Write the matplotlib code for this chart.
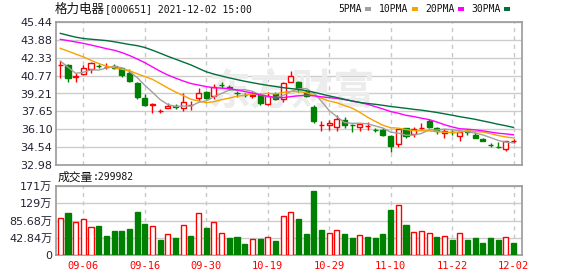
import numpy as np
import matplotlib.pyplot as plt
from matplotlib.patches import Rectangle

plt.rcParams['font.family'] = ['DejaVu Sans', 'Noto Sans CJK SC']

# trading days shown (2021-09-01 .. 2021-12-02)
dates = ['09-01', '09-02', '09-03', '09-06', '09-07', '09-08', '09-09', '09-10', '09-13', '09-14',
         '09-15', '09-16', '09-17', '09-22', '09-23', '09-24', '09-27', '09-28', '09-29', '09-30',
         '10-08', '10-11', '10-12', '10-13', '10-14', '10-15', '10-18', '10-19', '10-20', '10-21',
         '10-22', '10-25', '10-26', '10-27', '10-28', '10-29', '11-01', '11-02', '11-03', '11-04',
         '11-05', '11-08', '11-09', '11-10', '11-11', '11-12', '11-15', '11-16', '11-17', '11-18',
         '11-19', '11-22', '11-23', '11-24', '11-25', '11-26', '11-29', '11-30', '12-01', '12-02']

opens = [41.66, 41.69, 40.66, 40.91, 41.35, 41.63, 41.53, 41.63, 41.41, 40.97,
         40.10, 38.84, 38.24, 37.67, 37.97, 38.08, 37.97, 38.19, 38.84, 39.31,
         39.02, 39.97, 39.74, 39.25, 39.10, 39.01, 39.08, 38.27, 39.14, 38.73,
         40.19, 40.19, 39.37, 38.06, 36.45, 36.47, 36.32, 36.90, 36.48, 36.32,
         36.39, 36.05, 36.03, 35.51, 34.78, 36.18, 35.66, 36.21, 36.84, 36.18,
         35.74, 35.85, 35.53, 35.90, 35.59, 35.25, 34.74, 34.59, 34.37, 35.05]
closes = [41.72, 40.59, 40.70, 41.46, 41.90, 41.58, 41.56, 41.41, 40.82, 40.30,
          38.93, 38.21, 38.27, 37.70, 38.15, 38.05, 38.44, 38.22, 39.28, 38.84,
          39.80, 39.94, 39.71, 39.22, 39.07, 39.04, 38.36, 38.99, 38.73, 40.10,
          40.74, 39.60, 39.02, 36.81, 36.48, 36.67, 36.96, 36.47, 36.45, 36.53,
          36.42, 36.02, 35.59, 34.66, 36.09, 35.51, 36.09, 36.24, 36.32, 35.94,
          35.94, 35.82, 35.83, 35.87, 35.36, 35.10, 34.71, 34.56, 35.10, 35.08]
highs = [42.04, 41.75, 40.97, 41.69, 41.98, 41.75, 41.84, 41.75, 41.46, 41.32,
         40.19, 39.14, 38.36, 37.86, 38.41, 38.27, 39.23, 38.56, 39.72, 39.43,
         40.01, 40.19, 39.95, 39.43, 39.23, 39.37, 39.23, 39.37, 39.37, 40.24,
         41.20, 40.30, 39.51, 38.21, 36.81, 36.90, 37.34, 37.19, 36.53, 36.53,
         36.71, 36.18, 36.18, 35.59, 36.09, 36.23, 36.32, 36.61, 36.99, 36.32,
         36.12, 36.03, 35.88, 36.12, 35.88, 35.36, 34.87, 34.95, 35.10, 35.25]
lows = [40.59, 40.24, 40.24, 40.82, 41.02, 41.41, 41.35, 41.38, 40.68, 40.19,
        38.73, 38.15, 37.49, 37.54, 37.91, 37.86, 37.69, 37.77, 38.56, 38.73,
        38.73, 39.72, 39.51, 38.93, 38.88, 38.84, 38.21, 38.21, 38.65, 38.50,
        40.19, 39.37, 38.93, 36.61, 35.94, 36.03, 35.94, 36.20, 35.83, 35.97,
        36.03, 35.88, 35.53, 34.09, 34.57, 35.30, 35.45, 36.12, 36.23, 35.66,
        35.36, 35.59, 35.07, 35.59, 35.36, 35.10, 34.57, 34.47, 34.20, 34.87]

ma5 = [42.04, 41.50, 40.97, 41.06, 41.27, 41.25, 41.44, 41.58, 41.45, 41.13,
       40.60, 39.93, 39.31, 38.68, 38.25, 38.08, 38.12, 38.11, 38.43, 38.57,
       38.92, 39.22, 39.51, 39.50, 39.55, 39.40, 39.08, 38.94, 38.84, 39.04,
       39.38, 39.63, 39.64, 39.25, 38.53, 37.72, 37.19, 36.68, 36.61, 36.62,
       36.57, 36.38, 36.20, 35.84, 35.76, 35.57, 35.59, 35.72, 36.05, 36.02,
       36.11, 36.05, 35.97, 35.88, 35.76, 35.60, 35.37, 35.12, 34.97, 34.91]
ma10 = [43.15, 42.90, 42.65, 42.40, 42.10, 41.82, 41.60, 41.45, 41.32, 41.20,
        40.93, 40.69, 40.44, 40.07, 39.69, 39.34, 39.03, 38.71, 38.56, 38.41,
        38.50, 38.67, 38.81, 38.97, 39.06, 39.16, 39.15, 39.23, 39.17, 39.30,
        39.39, 39.36, 39.29, 39.05, 38.79, 38.55, 38.41, 38.16, 37.93, 37.57,
        37.14, 36.78, 36.44, 36.23, 36.19, 36.07, 35.98, 35.96, 35.95, 35.89,
        35.84, 35.82, 35.84, 35.97, 35.89, 35.85, 35.71, 35.55, 35.42, 35.34]
ma20 = [43.93, 43.82, 43.70, 43.58, 43.43, 43.28, 43.12, 42.98, 42.78, 42.52,
        42.22, 41.90, 41.52, 41.15, 40.82, 40.55, 40.30, 40.08, 39.95, 39.81,
        39.71, 39.68, 39.63, 39.52, 39.38, 39.25, 39.09, 38.97, 38.86, 38.85,
        38.94, 39.01, 39.05, 39.01, 38.92, 38.85, 38.78, 38.69, 38.55, 38.43,
        38.27, 38.07, 37.86, 37.64, 37.49, 37.31, 37.20, 37.06, 36.94, 36.73,
        36.49, 36.30, 36.14, 36.10, 36.04, 35.96, 35.85, 35.75, 35.69, 35.61]
ma30 = [44.45, 44.28, 44.12, 44.00, 43.94, 43.88, 43.82, 43.72, 43.60, 43.48,
        43.38, 43.22, 42.98, 42.72, 42.45, 42.20, 41.95, 41.70, 41.40, 41.10,
        40.90, 40.73, 40.57, 40.42, 40.28, 40.15, 40.03, 39.92, 39.82, 39.72,
        39.64, 39.57, 39.45, 39.32, 39.16, 39.00, 38.86, 38.70, 38.55, 38.43,
        38.34, 38.27, 38.18, 38.08, 38.00, 37.92, 37.83, 37.76, 37.66, 37.56,
        37.44, 37.32, 37.19, 37.08, 36.96, 36.82, 36.68, 36.53, 36.40, 36.25]

volumes = [911000, 1043000, 811000, 886000, 687000, 720000, 472000, 596000, 596000, 646000,
           1068000, 770000, 712000, 373000, 513000, 414000, 745000, 472000, 1035000, 671000,
           811000, 538000, 414000, 439000, 273000, 389000, 389000, 439000, 348000, 960000,
           1060000, 894000, 522000, 1589000, 621000, 538000, 613000, 522000, 422000, 488000,
           447000, 422000, 522000, 1118000, 1242000, 745000, 563000, 588000, 538000, 439000,
           464000, 373000, 538000, 373000, 422000, 298000, 422000, 373000, 439000, 299982]
# 1 = close above previous close (red), 0 = below (green)
vol_up = [1, 0, 1, 1, 1, 0, 0, 0, 0, 0, 0, 0, 1, 0, 1, 0, 1, 0, 1, 0,
          1, 1, 0, 0, 0, 1, 0, 1, 0, 1, 1, 0, 0, 0, 0, 1, 1, 0, 0, 1,
          0, 0, 0, 0, 1, 0, 1, 1, 1, 0, 1, 0, 1, 0, 0, 0, 0, 0, 1, 0]

tick_labels = ['09-06', '09-16', '09-30', '10-19', '10-29', '11-10', '11-22', '12-02']
price_ticks = [32.98, 34.54, 36.10, 37.65, 39.21, 40.77, 42.33, 43.88, 45.44]
vol_ticks = [0, 428400, 856800, 1285200, 1713600]
vol_tick_labels = ['0', '42.84万', '85.68万', '129万', '171万']

RED = '#ff0000'
GREEN = '#008000'
W, H = 578, 276

x = np.arange(len(dates))
o = np.array(opens)
c = np.array(closes)
up = c >= o
ccol = [RED if u else GREEN for u in up]
cface = ['white' if u else GREEN for u in up]
tick_pos = [dates.index(t) for t in tick_labels]

fig = plt.figure(figsize=(W / 100, H / 100), dpi=100)
ax = fig.add_axes([56 / W, 1 - 165 / H, 466 / W, 143 / H])
axv = fig.add_axes([56 / W, 1 - 255 / H, 466 / W, 69 / H])

# Price panel
ax.text(0.506, 0.517, '东方财富', transform=ax.transAxes, fontsize=30, color='#ececec',
        ha='center', va='center', family=['Noto Sans CJK SC'], fontweight='bold', zorder=1)
ax.vlines(x, lows, highs, colors=ccol, lw=1, zorder=3)
ax.bar(x, np.maximum(np.abs(c - o), 0.001), bottom=np.minimum(o, c), width=0.66,
       color=cface, edgecolor=ccol, lw=1, zorder=4)
ax.plot(x, ma5, color='#a0a0a0', lw=1, zorder=5)
ax.plot(x, ma10, color='#f5a300', lw=1, zorder=5)
ax.plot(x, ma20, color='#ff00ff', lw=1, zorder=5)
ax.plot(x, ma30, color='#006f3c', lw=1, zorder=5)
ax.set_ylim(price_ticks[0], price_ticks[-1])
ax.set_yticks(price_ticks)
ax.set_yticklabels(['%.2f' % v for v in price_ticks])

# Volume panel
axv.bar(x, volumes, width=0.66, color=['white' if u else GREEN for u in vol_up],
        edgecolor=[RED if u else GREEN for u in vol_up], lw=1, zorder=3)
axv.set_ylim(0, vol_ticks[-1])
axv.set_yticks(vol_ticks)
axv.set_yticklabels(vol_tick_labels)

for a in (ax, axv):
    a.set_xlim(-0.56, 60.1)
    a.set_xticks(tick_pos)
    a.set_axisbelow(True)
    a.grid(axis='y', color='#cccccc', lw=1)
    a.grid(axis='x', color='#c8c8c8', lw=1, linestyle=(0, (3, 3)))
    a.tick_params(axis='y', length=0, pad=2.5, labelsize=8, labelcolor='#222233')
    a.tick_params(axis='x', length=0)
    for s in a.spines.values():
        s.set_color('#9a9a9a')
        s.set_linewidth(1.2)

ax.tick_params(axis='x', labelbottom=False)
axv.set_xticklabels(tick_labels, family='DejaVu Sans Mono', fontsize=7.5, color=RED)
axv.tick_params(axis='x', pad=4)

# Header and legend
fig.text(55 / W, 1 - 9 / H, '格力电器', family=['Noto Sans CJK SC'], fontsize=9,
         va='center', color='#111111')
fig.text(105 / W, 1 - 9 / H, '[000651] 2021-12-02 15:00', family='DejaVu Sans Mono',
         fontsize=7, va='center', color='#111111')

ma_names = ['5PMA', '10PMA', '20PMA', '30PMA']
ma_colors = ['#a0a0a0', '#f5a300', '#ff00ff', '#006f3c']
name_x = [338, 379, 425, 471]
for name, col, nx in zip(ma_names, ma_colors, name_x):
    fig.text(nx / W, 1 - 9 / H, name, family='DejaVu Sans Mono', fontsize=7,
             va='center', color='#111111')
    sx = nx + 6 * len(name) + 3
    fig.add_artist(Rectangle((sx / W, 1 - 11 / H), 6 / W, 4 / H,
                             transform=fig.transFigure, color=col, lw=0))

fig.text(58 / W, 1 - 177 / H, '成交量', family=['Noto Sans CJK SC'], fontsize=8.5,
         va='center', color='#111111')
fig.text(93 / W, 1 - 177 / H, ':%d' % volumes[-1], family='DejaVu Sans Mono',
         fontsize=7, va='center', color='#111111')

fig.savefig('out.png', dpi=100)
